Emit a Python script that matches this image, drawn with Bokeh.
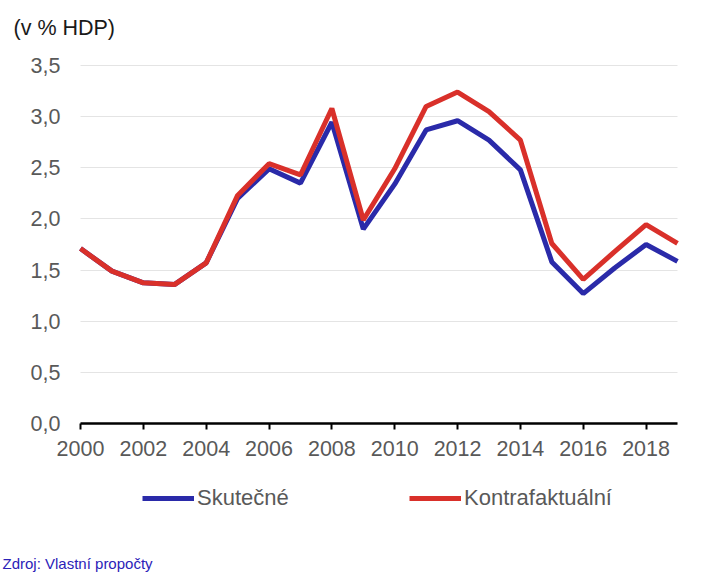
from bokeh.plotting import figure
from bokeh.models import (Range1d, FixedTicker, CustomJSTickFormatter, Legend, LegendItem, Label)
from bokeh.embed import file_html
from bokeh.resources import INLINE

# ---- data ----
years = list(range(2000, 2020))
skutecne = [1.71, 1.49, 1.375, 1.36, 1.57, 2.20, 2.49, 2.35, 2.945, 1.90,
            2.34, 2.87, 2.96, 2.77, 2.48, 1.58, 1.27, 1.52, 1.75, 1.585]
kontrafaktualni = [1.71, 1.49, 1.375, 1.36, 1.57, 2.23, 2.54, 2.43, 3.08, 1.99,
                   2.49, 3.10, 3.24, 3.05, 2.77, 1.76, 1.41, 1.68, 1.945, 1.76]
x_ticks = list(range(2000, 2019, 2))
y_ticks = [0, 0.5, 1.0, 1.5, 2.0, 2.5, 3.0, 3.5]
series_names = ["Skutečné", "Kontrafaktuální"]
title_text = "(v % HDP)"
source_text = "Zdroj: Vlastní propočty"

BLUE = "#2a2aa9"
RED = "#d9302a"
FONT = "Liberation Sans"
GRAY = "#595959"

W, H = 715, 575
# plot area in canvas pixels: x 80..677, y 65..423
PX_L, PX_R, PX_T, PX_B = 80, 677, 65, 423
x0, x1 = years[0], years[-1]
y0, y1 = y_ticks[0], y_ticks[-1]
sx = (PX_R - PX_L) / (x1 - x0)
sy = (PX_B - PX_T) / (y1 - y0)
x_range = Range1d(x0 - PX_L / sx, x1 + (W - PX_R) / sx)
y_range = Range1d(y0 - (H - PX_B) / sy, y1 + PX_T / sy)

p = figure(width=W, height=H, output_backend="svg", toolbar_location=None,
           x_range=x_range, y_range=y_range,
           min_border=0, min_border_left=0, min_border_right=0,
           min_border_top=0, min_border_bottom=0)
p.outline_line_color = None
p.background_fill_color = "white"
p.border_fill_color = "white"

# grid
p.xgrid.grid_line_color = None
p.ygrid.ticker = FixedTicker(ticks=y_ticks)
p.ygrid.grid_line_color = "#e4e4e4"
p.ygrid.grid_line_width = 1
p.ygrid.cross_bounds = (x0, x1)

r1 = p.line(years, skutecne, line_color=BLUE, line_width=5)
r2 = p.line(years, kontrafaktualni, line_color=RED, line_width=5)

# x axis
xa = p.xaxis[0]
xa.fixed_location = 0
xa.bounds = (x0, x1)
xa.ticker = FixedTicker(ticks=x_ticks)
xa.axis_line_color = "black"
xa.axis_line_width = 2.5
xa.major_tick_line_color = "black"
xa.major_tick_line_width = 2
xa.major_tick_in = 0
xa.major_tick_out = 6
xa.minor_tick_line_color = None
xa.major_label_standoff = 11
xa.major_label_text_font = FONT
xa.major_label_text_font_size = "21.5px"
xa.major_label_text_color = GRAY

# y axis
ya = p.yaxis[0]
ya.fixed_location = x0
ya.bounds = (y0, y1)
ya.ticker = FixedTicker(ticks=y_ticks)
ya.formatter = CustomJSTickFormatter(code="return tick.toFixed(1).replace('.', ',');")
ya.axis_line_color = None
ya.major_tick_line_color = None
ya.minor_tick_line_color = None
ya.major_tick_in = 0
ya.major_tick_out = 0
ya.major_label_standoff = 20
ya.major_label_text_font = FONT
ya.major_label_text_font_size = "21.5px"
ya.major_label_text_color = GRAY

# legends
for r, name, vx in [(r1, series_names[0], 142), (r2, series_names[1], 409)]:
    lg = Legend(items=[LegendItem(label=name, renderers=[r])], location=(vx, 64),
                orientation="horizontal", glyph_width=52, glyph_height=20,
                label_height=20, label_standoff=3, padding=0, margin=0, spacing=0,
                border_line_color=None, background_fill_alpha=0,
                label_text_font=FONT, label_text_font_size="22px",
                label_text_color=GRAY)
    p.add_layout(lg, "center")

p.add_layout(Label(x=13, y=H - 27, x_units="screen", y_units="screen", text=title_text,
                   text_font=FONT, text_font_size="21.5px", text_color="#1a1a1a",
                   text_baseline="middle", text_align="left"))
p.add_layout(Label(x=2, y=H - 563, x_units="screen", y_units="screen", text=source_text,
                   text_font=FONT, text_font_size="15px", text_color="#2b22b8",
                   text_baseline="middle", text_align="left"))

open("out.html", "w").write(file_html(p, INLINE))
